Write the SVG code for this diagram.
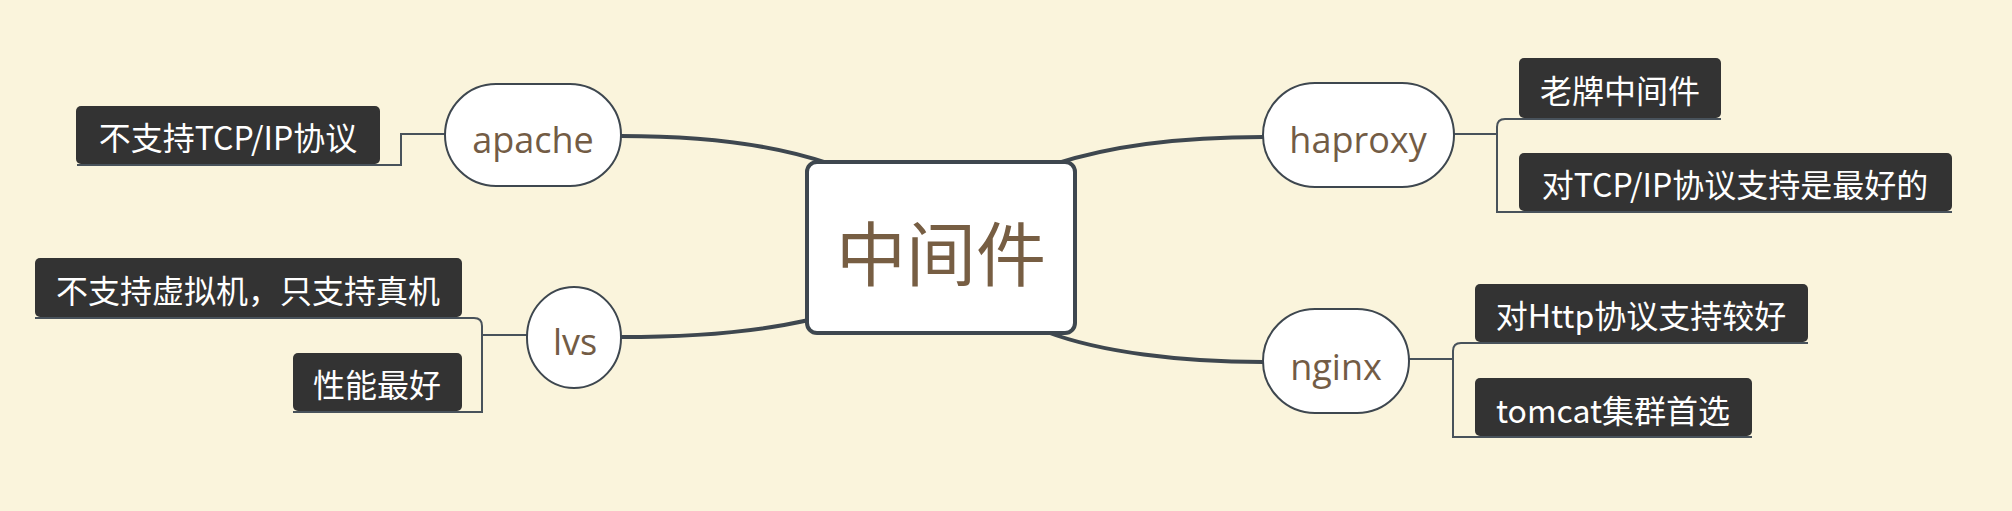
<svg xmlns="http://www.w3.org/2000/svg" width="2012" height="511" viewBox="0 0 2012 511">
<style>
.main{fill:none;stroke:#3e474f;stroke-width:4;stroke-linecap:round}
.sub{fill:none;stroke:#48525b;stroke-width:2}
.node{fill:#ffffff;stroke:#3e474f;stroke-width:2}
.center{fill:#ffffff;stroke:#3e474f;stroke-width:4}
.ntext{font-family:"Open Sans","Noto Sans",sans-serif;font-size:36px;fill:#735c45;text-anchor:middle}
.ctext{font-family:"Noto Sans CJK SC",sans-serif;font-size:70px;fill:#775e43;text-anchor:middle}
.box{fill:#333333}
.btext{font-family:"Noto Sans CJK SC",sans-serif;font-size:32px;fill:#ffffff;text-anchor:middle}
</style>
<rect x="0" y="0" width="2012" height="511" fill="#faf4dc"/>
<g id="connectors">
<path class="main" d="M621,136 C700,136 770,143 830,164"/>
<path class="main" d="M621,337 C700,337 760,331 809,320"/>
<path class="main" d="M1263,137 C1180,137 1110,146 1055,164"/>
<path class="main" d="M1263,362 C1180,362 1100,352 1047,332"/>
<path class="sub" d="M445,134 H401 V165 H77"/>
<path class="sub" d="M527,335 H482"/>
<path class="sub" d="M35,318 H474 Q482,318 482,326 V412 H293"/>
<path class="sub" d="M1454,134 H1497"/>
<path class="sub" d="M1721,119 H1505 Q1497,119 1497,127 V212 H1952"/>
<path class="sub" d="M1409,359 H1453"/>
<path class="sub" d="M1808,343 H1461 Q1453,343 1453,351 V437 H1752"/>
</g>
<g id="node-center">
<rect class="center" x="807" y="162" width="268" height="171" rx="10"/>
<text class="ctext" x="941" y="281">中间件</text>
</g>
<g id="node-apache">
<rect class="node" x="445" y="84" width="176" height="102" rx="51"/>
<text class="ntext" x="533" y="153">apache</text>
</g>
<g id="node-apache-1">
<rect class="box" x="76" y="106" width="304" height="58" rx="5"/>
<text class="btext" x="228" y="150">不支持TCP/IP协议</text>
</g>
<g id="node-lvs">
<rect class="node" x="527" y="287" width="94" height="101" rx="47" ry="50"/>
<text class="ntext" x="575" y="355">lvs</text>
</g>
<g id="node-lvs-1">
<rect class="box" x="35" y="258" width="427" height="59" rx="5"/>
<text class="btext" x="248" y="303">不支持虚拟机，只支持真机</text>
</g>
<g id="node-lvs-2">
<rect class="box" x="293" y="353" width="169" height="58" rx="5"/>
<text class="btext" x="377" y="397">性能最好</text>
</g>
<g id="node-haproxy">
<rect class="node" x="1263" y="83" width="191" height="104" rx="52"/>
<text class="ntext" x="1358" y="153">haproxy</text>
</g>
<g id="node-haproxy-1">
<rect class="box" x="1519" y="58" width="202" height="60" rx="5"/>
<text class="btext" x="1620" y="103">老牌中间件</text>
</g>
<g id="node-haproxy-2">
<rect class="box" x="1519" y="153" width="433" height="58" rx="5"/>
<text class="btext" x="1735" y="197">对TCP/IP协议支持是最好的</text>
</g>
<g id="node-nginx">
<rect class="node" x="1263" y="309" width="146" height="104" rx="52"/>
<text class="ntext" x="1336" y="380">nginx</text>
</g>
<g id="node-nginx-1">
<rect class="box" x="1475" y="284" width="333" height="58" rx="5"/>
<text class="btext" x="1641" y="328">对Http协议支持较好</text>
</g>
<g id="node-nginx-2">
<rect class="box" x="1475" y="378" width="277" height="58" rx="5"/>
<text class="btext" x="1613" y="423">tomcat集群首选</text>
</g>
</svg>
